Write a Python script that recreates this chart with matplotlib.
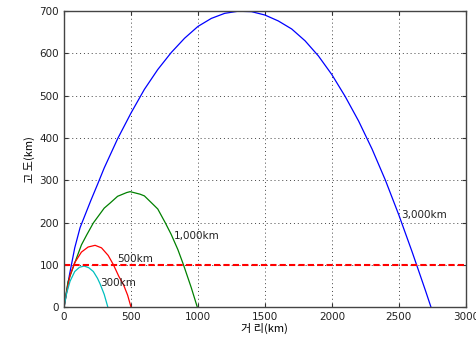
"""
Ballistic trajectories by range (300 / 500 / 1,000 / 3,000 km)
"""
import numpy as np
import matplotlib
matplotlib.use('Agg')
import matplotlib.pyplot as plt

plt.rcParams['font.family'] = ['Noto Sans CJK KR', 'DejaVu Sans']

# range (km) vs altitude (km)
x3000 = [0, 40, 80, 120, 150, 200, 250, 300, 400, 500, 600, 700, 800, 900, 1000,
         1100, 1200, 1300, 1400, 1500, 1600, 1700, 1800, 1900, 2000, 2100, 2200,
         2300, 2400, 2500, 2600, 2700, 2740]
y3000 = [0, 75, 140, 188, 212, 252, 290, 329, 398, 459, 515, 562, 602, 636, 664,
         683, 695, 700, 699, 691, 677, 658, 630, 594, 550, 498, 440,
         374, 300, 218, 130, 38, 0]

x1000 = [0, 30, 75, 130, 170, 219, 300, 344, 400, 469, 494, 568, 600, 668, 700,
         755, 800, 850, 892, 950, 995]
y1000 = [0, 60, 100, 147, 171, 199, 234, 246, 262, 271, 273, 267, 263, 242, 232,
         200, 172, 136, 100, 46, 0]

x500 = [0, 20, 45, 80, 130, 180, 232, 280, 330, 369, 410, 444, 475, 500]
y500 = [0, 35, 75, 105, 130, 142, 146, 140, 122, 100, 72, 53, 28, 0]

x300 = [0, 20, 45, 80, 115, 150, 185, 219, 250, 269, 300, 327]
y300 = [0, 33, 61, 84, 94, 97, 93, 84, 68, 55, 30, 0]

threshold = 100  # km
labels = ['3,000km', '1,000km', '500km', '300km']
label_pos = [(2520, 218), (820, 168), (400, 114), (270, 58)]

fig = plt.figure(figsize=(4.76, 3.4), dpi=100)
ax = fig.add_axes([0.1345, 0.097, 0.844, 0.87])

ax.plot(x3000, y3000, color='#0000ff', lw=0.9)
ax.plot(x1000, y1000, color='#008000', lw=0.9)
ax.plot(x500, y500, color='#ff0000', lw=0.9)
ax.plot(x300, y300, color='#00bfbf', lw=0.9)
ax.plot([0, 3000], [threshold, threshold], color='red', lw=1.5, ls=(0, (3, 1.5)))

for txt, (tx, ty) in zip(labels, label_pos):
    ax.text(tx, ty, txt, fontsize=7.5, va='center', ha='left', color='#222222',
            family=['DejaVu Sans'])

ax.set_xlim(0, 3000)
ax.set_ylim(0, 700)
ax.set_xticks(np.arange(0, 3001, 500))
ax.set_yticks(np.arange(0, 701, 100))
ax.grid(True, ls=(0, (1, 3)), color='#444444', lw=0.7)
ax.tick_params(direction='in', top=True, right=True, labelsize=7.5, length=3,
               color='#333333', labelcolor='#222222')
for lab in ax.get_xticklabels() + ax.get_yticklabels():
    lab.set_family('DejaVu Sans')
for s in ax.spines.values():
    s.set_color('#444444')
    s.set_linewidth(1.0)

ax.set_xlabel('거 리(km)', fontsize=8, labelpad=1)
ax.set_ylabel('고 도(km)', fontsize=8, labelpad=3)

plt.savefig('out.png', dpi=100)
plt.close()
